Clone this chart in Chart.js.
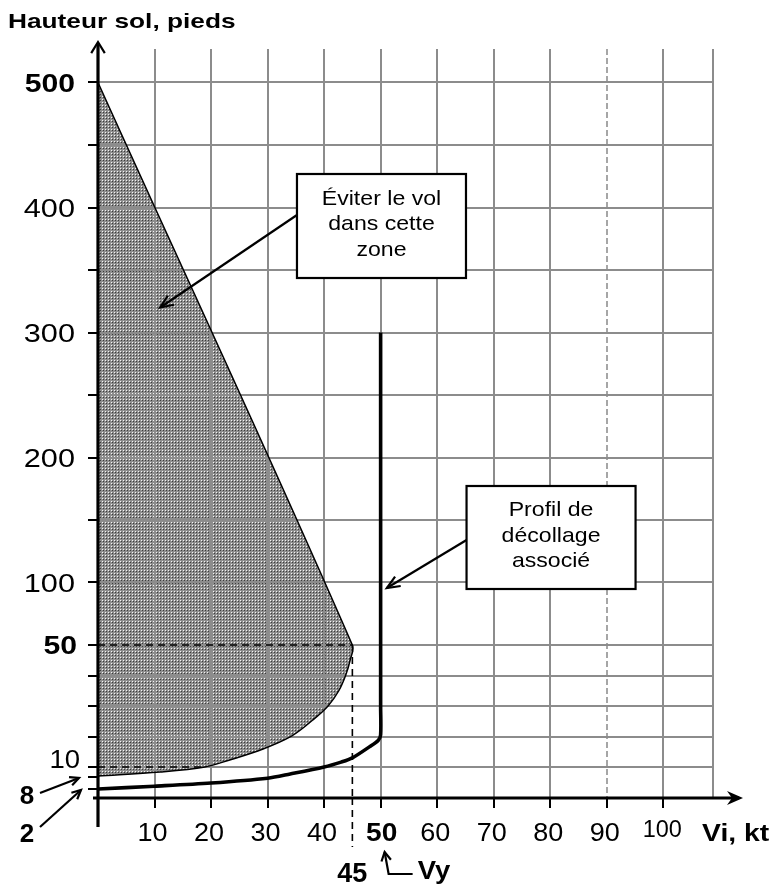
<!DOCTYPE html>
<html>
<head>
<meta charset="utf-8">
<script src="https://cdn.jsdelivr.net/npm/chart.js@4.4.1/dist/chart.umd.min.js"></script>
<style>
  html, body { margin: 0; padding: 0; background: #fff; }
  canvas { display: block; }
</style>
</head>
<body>
<canvas id="myChart" width="773" height="887"></canvas>
<script>
var speedTicks   = [10, 20, 30, 40, 50, 60, 70, 80, 90, 100];
var heightTicks  = [2, 8, 10, 20, 30, 40, 50, 100, 150, 200, 250, 300, 350, 400, 450, 500];
var heightLabels = [10, 50, 100, 200, 300, 400, 500];

// zone a eviter (kt, ft)
var zoneSpeed  = [0, 45, 44.6, 43.8, 42.6, 40.7, 38, 34.3, 29.2, 23.3, 18.9, 11, 0];
var zoneHeight = [500, 50, 45, 40, 35, 30, 25.4, 20.2, 15.9, 12.3, 10, 9, 8.2];

// profil de decollage associe (kt, ft)
var profileSpeed  = [0, 10, 20, 30, 34, 40, 43, 45, 48, 49.6, 50, 50, 50];
var profileHeight = [2, 3.4, 5, 7.4, 8.6, 10, 11.6, 13, 16.6, 18.8, 20.5, 30, 300];

// reperes en tirets
var guide50 = [[0, 50], [45, 50]];
var guide10 = [[0, 10], [18.9, 10]];
var guide45 = [[45, 50], [45, 0]];

// echelle verticale non lineaire : ruptures de l'axe (ft -> unites)
var AXIS_FT = [0, 2, 8, 10, 50, 500];
var AXIS_U  = [0, 7.2, 16.8, 24.8, 122.4, 572.4];

function interp(v, from, to) {
  var n = from.length, i = 1;
  if (v >= from[n - 1]) i = n - 1;
  else if (v > from[0]) { while (v > from[i]) i++; }
  var t = (v - from[i - 1]) / (from[i] - from[i - 1]);
  return to[i - 1] + t * (to[i] - to[i - 1]);
}

class HeightScale extends Chart.LinearScale {
  static id = 'height';
  static defaults = Chart.LinearScale.defaults;
  buildTicks() { return heightTicks.map(function (v) { return { value: v }; }); }
  getPixelForValue(v) { return super.getPixelForValue(interp(v, AXIS_FT, AXIS_U)); }
  getValueForPixel(p) { return interp(super.getValueForPixel(p), AXIS_U, AXIS_FT); }
}
Chart.register(HeightScale);

function pts(xs, ys) { return xs.map(function (x, i) { return { x: x, y: ys[i] }; }); }
function pairs(a) { return a.map(function (p) { return { x: p[0], y: p[1] }; }); }

var ctx = document.getElementById('myChart').getContext('2d');

// trame grise de la zone (points clairs et sombres sur fond gris)
var pc = document.createElement('canvas');
pc.width = 3; pc.height = 3;
var pctx = pc.getContext('2d');
pctx.fillStyle = '#8e8e8e'; pctx.fillRect(0, 0, 3, 3);
pctx.fillStyle = '#f4f4f4'; pctx.fillRect(0, 0, 1, 1);
pctx.fillStyle = '#3c3c3c'; pctx.fillRect(1, 1, 1, 1);
var shade = ctx.createPattern(pc, 'repeat');

var FONT = "'Liberation Sans', Arial, sans-serif";
var ZONE_FILL = 5;

function seg(c, x1, y1, x2, y2) { c.beginPath(); c.moveTo(x1, y1); c.lineTo(x2, y2); c.stroke(); }

function head(c, xt, yt, xf, yf, len, ang) {
  var a = Math.atan2(yt - yf, xt - xf);
  c.beginPath();
  c.moveTo(xt - len * Math.cos(a - ang), yt - len * Math.sin(a - ang));
  c.lineTo(xt, yt);
  c.lineTo(xt - len * Math.cos(a + ang), yt - len * Math.sin(a + ang));
  c.stroke();
}

function text(c, s, x, y, size, bold, align, sx) {
  c.save();
  c.font = (bold ? 'bold ' : '') + size + 'px ' + FONT;
  c.fillStyle = '#000';
  c.textAlign = align || 'center';
  c.textBaseline = 'middle';
  c.translate(x, y);
  c.scale(sx || 1, 1);
  c.fillText(s, 0, 0);
  c.restore();
}

var callouts = [
  { lines: ['Éviter le vol', 'dans cette', 'zone'], box: [35.2, 65.1, 426.8, 343.6], from: [35.2, 394], to: [11, 320] },
  { lines: ['Profil de', 'décollage', 'associé'], box: [65.2, 95.1, 177.2, 94.8], from: [65.2, 134], to: [51.1, 95.6] }
];

var decor = {
  id: 'decor',
  afterDatasetDraw: function (chart, args) {
    if (args.index === ZONE_FILL) {
      chart.scales.x.drawGrid(chart.chartArea);
      chart.scales.y.drawGrid(chart.chartArea);
    }
  },
  afterDraw: function (chart) {
    var c = chart.ctx, xs = chart.scales.x, ys = chart.scales.y;
    var ax = xs.getPixelForValue(0), ay = ys.getPixelForValue(0);
    var area = chart.chartArea;

    c.save();
    c.strokeStyle = '#000';
    c.fillStyle = '#000';
    c.lineJoin = 'miter';

    // axes
    c.lineWidth = 3.2;
    seg(c, ax, ay + 29, ax, area.top - 6);
    c.lineWidth = 3;
    seg(c, ax - 5, ay, area.right + 26, ay);
    // fleche verticale
    c.lineWidth = 2.2;
    head(c, ax, area.top - 7, ax, area.top + 10, 13, 0.55);
    // fleche horizontale
    var tx = area.right + 30;
    c.beginPath();
    c.moveTo(tx, ay); c.lineTo(tx - 16, ay - 7); c.lineTo(tx - 11, ay);
    c.lineTo(tx - 16, ay + 7); c.closePath(); c.fill();

    // prolongement du repere 45 kt
    var x45 = xs.getPixelForValue(45);
    c.lineWidth = 1.6;
    c.setLineDash([7, 5]);
    seg(c, x45, ay, x45, ay + 49);
    c.setLineDash([]);

    // fleches 8 et 2
    c.lineWidth = 2.2;
    var y8 = ys.getPixelForValue(8), y2 = ys.getPixelForValue(2);
    seg(c, ax - 58, y8 + 16, ax - 19, y8 + 1);
    head(c, ax - 19, y8 + 1, ax - 58, y8 + 16, 10, 0.45);
    seg(c, ax - 58, y2 + 38, ax - 17, y2 + 1);
    head(c, ax - 17, y2 + 1, ax - 58, y2 + 38, 10, 0.45);

    // fleche Vy
    var x50 = xs.getPixelForValue(50);
    c.beginPath();
    c.moveTo(x50 + 4, ay + 54);
    c.lineTo(x50 + 8, ay + 76);
    c.lineTo(x50 + 32, ay + 76);
    c.stroke();
    head(c, x50 + 4, ay + 54, x50 + 8, ay + 76, 10, 0.5);

    // bulles
    callouts.forEach(function (co) {
      var l = xs.getPixelForValue(co.box[0]), r = xs.getPixelForValue(co.box[1]);
      var t = ys.getPixelForValue(co.box[2]), b = ys.getPixelForValue(co.box[3]);
      var fx = xs.getPixelForValue(co.from[0]), fy = ys.getPixelForValue(co.from[1]);
      var px = xs.getPixelForValue(co.to[0]), py = ys.getPixelForValue(co.to[1]);
      c.lineWidth = 2.2;
      seg(c, fx, fy, px, py);
      head(c, px, py, fx, fy, 14, 0.4);
      c.fillStyle = '#fff';
      c.fillRect(l, t, r - l, b - t);
      c.strokeRect(l, t, r - l, b - t);
      var cx = (l + r) / 2, cy = (t + b) / 2;
      co.lines.forEach(function (s, i) {
        text(c, s, cx, cy + (i - 1) * 25.5 - 1.5, 21, false, 'center', 1.1);
      });
    });
    c.restore();

    // graduations verticales
    heightLabels.forEach(function (v) {
      var y = ys.getPixelForValue(v);
      var bold = v === 50 || v === 500;
      if (v === 10) text(c, '10', ax - 18, y - 6, 25, false, 'right', 1.1);
      else text(c, String(v), ax - (v === 50 ? 21 : 23), y + 2, 26, bold, 'right', bold ? 1.16 : 1.18);
    });
    text(c, '8', ax - 71, y8 + 20, 26, true, 'center', 1);
    text(c, '2', ax - 71, y2 + 46, 26, true, 'center', 1);

    // graduations horizontales
    speedTicks.forEach(function (v) {
      var x = xs.getPixelForValue(v);
      if (v === 100) text(c, '100', x - 1, ay + 33, 23, false, 'center', 1.02);
      else if (v === 50) text(c, '50', x + 1, ay + 36, 26, true, 'center', 1.08);
      else text(c, String(v), x - 2, ay + 36, 25, false, 'center', 1.08);
    });
    text(c, '45', x45, ay + 77, 27, true, 'center', 1);
    text(c, 'Vy', x50 + 37, ay + 74, 25, true, 'left', 1.1);
    text(c, 'Vi, kt', area.right - 11, ay + 36, 24, true, 'left', 1.18);
    text(c, 'Hauteur sol, pieds', 8, 22, 21, true, 'left', 1.25);
  }
};

var myChart = new Chart(ctx, {
  type: 'scatter',
  data: {
    datasets: [
      { data: pts(profileSpeed, profileHeight), showLine: true, borderColor: '#000', borderWidth: 3.6, tension: 0.3, pointRadius: 0, fill: false },
      { data: pairs(guide50), showLine: true, borderColor: '#000', borderWidth: 1.5, borderDash: [7, 5], pointRadius: 0, fill: false },
      { data: pairs(guide10), showLine: true, borderColor: '#000', borderWidth: 1.5, borderDash: [7, 5], pointRadius: 0, fill: false },
      { data: pairs(guide45), showLine: true, borderColor: '#000', borderWidth: 1.6, borderDash: [7, 5], pointRadius: 0, fill: false },
      { data: pts(zoneSpeed, zoneHeight), showLine: true, borderColor: '#000', borderWidth: 1.5, tension: 0.35, pointRadius: 0, fill: false },
      { data: pts(zoneSpeed, zoneHeight), showLine: true, borderWidth: 0, borderColor: 'rgba(0,0,0,0)', backgroundColor: shade, tension: 0.35, pointRadius: 0, fill: 'shape' }
    ]
  },
  options: {
    responsive: false,
    animation: false,
    events: [],
    layout: { padding: { left: 88, right: 60, top: 49, bottom: 79 } },
    plugins: { legend: { display: false }, tooltip: { enabled: false } },
    scales: {
      x: {
        type: 'linear',
        min: 0,
        max: 108.8,
        afterBuildTicks: function (axis) {
          axis.ticks = speedTicks.concat([108.8]).map(function (v) { return { value: v }; });
        },
        afterFit: function (axis) { axis.height = 10; },
        ticks: { display: false },
        border: {
          display: false,
          dash: function (c) { return c.tick && c.tick.value === 90 ? [6, 3] : []; }
        },
        grid: {
          color: function (c) { return c.tick && c.tick.value === 90 ? '#a6a6a6' : '#8c8c8c'; },
          lineWidth: 2,
          tickLength: 10,
          tickWidth: 2,
          tickColor: function (c) { return c.tick && c.tick.value <= 100 ? '#000' : 'rgba(0,0,0,0)'; }
        }
      },
      y: {
        type: 'height',
        min: 0,
        max: interp(526.8, AXIS_FT, AXIS_U),
        afterFit: function (axis) { axis.width = 10; },
        ticks: { display: false },
        border: { display: false },
        grid: {
          color: function (c) { return c.tick && c.tick.value < 10 ? 'rgba(0,0,0,0)' : '#8c8c8c'; },
          lineWidth: 2,
          tickLength: 10,
          tickWidth: 2,
          tickColor: '#000'
        }
      }
    }
  },
  plugins: [decor]
});
</script>
</body>
</html>
